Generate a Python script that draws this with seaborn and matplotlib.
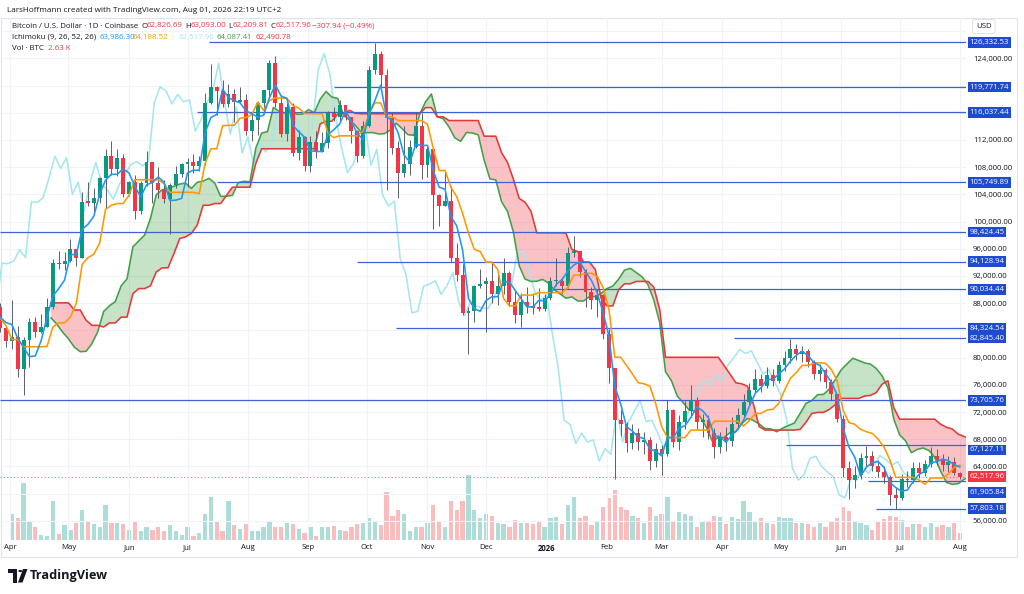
import numpy as np
import pandas as pd
import matplotlib
matplotlib.use("Agg")
import matplotlib.pyplot as plt
import matplotlib.dates as mdates
import matplotlib.transforms as mtrans
from matplotlib.patches import Rectangle, Polygon, Circle
import seaborn as sns

sns.set_theme(style="white")
plt.rcParams['font.family'] = ['Open Sans', 'DejaVu Sans']

# ---------------- data (3-day bars, values in thousand USD) ----------------
first_bar = "2025-02-06"          # first bar (warm-up for the Ichimoku lines)
first_open_k = 97.9
close_k = [
    96.5, 95.8, 97.5, 95.8, 98.3, 96.3, 84.7, 86.0, 87.2, 86.7, 78.5, 81.0, 82.6, 86.8, 83.8, 87.4, 84.3, 82.5,
    83.1, 78.3, 82.6, 85.3, 83.7, 84.5, 87.5, 93.9, 93.8, 94.2,
    95.9, 94.7, 102.9, 102.8, 103.5, 106.4, 109.6, 107.8, 109.4, 104.0,
    105.8, 101.5, 105.7, 108.7, 105.6, 104.6, 103.3, 105.4, 107.0, 108.4,
    108.8, 108.2, 108.9, 117.5, 119.8, 119.2, 117.3, 118.7, 117.6, 117.9,
    113.3, 115.0, 117.5, 119.3, 123.3, 117.4, 112.9, 116.9, 110.1, 112.5,
    108.2, 111.7, 110.2, 111.5, 116.0, 115.3, 117.1, 115.3, 113.3, 109.6,
    114.0, 122.3, 124.7, 121.6, 115.2, 110.8, 107.2, 108.5, 110.9, 114.1,
    108.3, 110.6, 103.9, 102.3, 103.0, 94.6, 92.2, 86.6, 86.8, 90.5,
    90.8, 91.3, 89.3, 90.6, 92.5, 88.2, 86.2, 88.2, 87.6, 87.3,
    87.2, 88.7, 91.2, 91.3, 90.6, 95.4, 95.6, 92.6, 89.7, 88.5,
    89.2, 83.5, 78.5, 70.8, 70.2, 67.4, 68.9, 67.6, 67.9, 64.8,
    66.6, 65.8, 72.3, 67.6, 70.5, 72.1, 73.7, 70.6, 70.8, 68.9,
    66.8, 68.3, 67.8, 70.2, 71.5, 73.5, 75.3, 76.8, 75.9, 77.4,
    76.6, 78.9, 80.0, 81.2, 80.6, 81.0, 79.3, 77.6, 78.2, 76.4,
    74.6, 71.0, 63.8, 62.0, 62.8, 65.2, 65.5, 64.0, 63.2, 62.5,
    59.8, 59.4, 62.2, 62.0, 63.8, 63.0, 64.3, 65.6, 65.0, 64.2,
    64.7, 63.1, 62.518]
high_k = [
    99.2, 98.3, 98.1, 97.9, 98.8, 99.5, 96.5, 87.0, 95.0, 92.8, 86.9, 84.3, 85.2, 87.0, 87.4, 88.7, 88.0, 84.6,
    88.5, 84.7, 83.0, 85.8, 86.0, 86.4, 88.8, 94.5, 95.7, 95.5,
    97.4, 96.0, 104.3, 105.8, 105.0, 106.6, 110.7, 111.9, 110.7, 110.0,
    106.0, 106.8, 106.0, 110.4, 108.8, 108.0, 106.1, 105.7, 108.1, 108.6,
    109.3, 110.0, 109.7, 118.9, 123.2, 120.0, 120.8, 120.2, 119.5, 119.8,
    118.8, 115.8, 117.7, 119.4, 123.7, 124.4, 118.6, 117.4, 117.4, 113.5,
    112.6, 112.6, 113.3, 113.2, 116.3, 116.8, 117.9, 117.2, 115.4, 113.4,
    114.8, 122.9, 126.2, 125.1, 122.5, 116.0, 111.8, 114.0, 112.0, 116.1,
    116.0, 111.2, 110.6, 104.1, 107.5, 105.3, 96.8, 93.8, 87.5, 90.7,
    93.0, 91.9, 94.1, 92.3, 94.6, 92.8, 90.0, 89.5, 90.4, 89.5,
    90.3, 89.4, 91.8, 94.6, 91.8, 96.2, 97.9, 95.5, 93.0, 90.4,
    90.1, 89.4, 84.2, 77.5, 72.3, 70.6, 70.3, 69.6, 69.0, 68.4,
    67.4, 67.1, 73.8, 72.5, 71.6, 73.6, 76.0, 74.2, 71.7, 71.5,
    69.7, 69.0, 69.8, 71.2, 72.6, 74.6, 76.2, 78.3, 77.6, 78.6,
    78.4, 79.5, 80.9, 82.7, 82.0, 81.7, 81.2, 79.7, 79.0, 78.5,
    76.8, 74.5, 71.5, 64.8, 64.0, 66.0, 67.0, 66.2, 64.9, 64.0,
    62.8, 60.8, 62.9, 63.3, 64.6, 64.7, 65.0, 66.8, 66.5, 65.8,
    65.6, 65.4, 63.2]
low_k = [
    95.7, 94.8, 94.1, 95.2, 93.4, 94.8, 82.2, 78.2, 81.5, 84.7, 77.5, 76.6, 80.0, 81.2, 83.2, 83.6, 83.7, 81.6,
    81.2, 77.2, 74.5, 78.6, 83.1, 83.6, 84.6, 87.1, 93.0, 92.9,
    94.1, 93.4, 95.8, 102.3, 101.5, 102.7, 102.0, 106.9, 106.7, 103.6,
    103.7, 100.4, 101.1, 105.2, 102.7, 103.4, 102.8, 98.2, 105.0, 106.6,
    105.1, 107.2, 107.4, 108.3, 117.3, 115.7, 116.8, 116.9, 114.7, 117.4,
    112.7, 111.9, 112.7, 115.8, 118.1, 116.8, 112.5, 111.8, 109.7, 109.0,
    107.4, 107.3, 109.3, 110.2, 110.8, 114.8, 114.7, 115.0, 111.5, 108.7,
    109.3, 113.9, 121.7, 119.2, 104.6, 110.0, 103.5, 106.6, 106.9, 110.8,
    106.3, 106.6, 98.9, 99.3, 102.5, 94.0, 91.2, 86.3, 80.6, 85.3,
    90.2, 83.8, 88.1, 87.8, 89.3, 87.6, 85.1, 84.5, 86.6, 86.4,
    86.8, 86.9, 88.4, 90.5, 89.3, 90.3, 94.8, 91.8, 87.4, 87.2,
    86.0, 82.8, 76.3, 62.2, 68.5, 66.1, 66.6, 66.4, 65.9, 63.5,
    63.9, 62.7, 65.5, 66.8, 66.4, 69.5, 71.3, 69.5, 68.4, 68.1,
    65.3, 66.0, 66.2, 67.0, 69.5, 71.2, 72.9, 75.0, 75.0, 75.6,
    75.8, 76.2, 78.0, 79.2, 79.6, 79.3, 78.6, 76.9, 76.5, 75.6,
    73.8, 70.5, 62.5, 59.2, 60.8, 62.2, 64.0, 63.3, 62.4, 61.5,
    58.4, 57.8, 59.0, 61.0, 61.6, 62.3, 62.6, 63.9, 64.2, 63.4,
    63.2, 62.7, 62.21]
# volume of the visible bars (from 2025-04-01), arbitrary units
volume = [
    30, 25, 65, 22, 15, 6, 5, 45, 7, 17, 12, 20, 35, 22, 18, 15, 40, 20, 20, 18,
    12, 22, 10, 15, 12, 15, 10, 17, 10, 6, 15, 5, 8, 30, 50, 22, 10, 45, 17, 13,
    18, 10, 10, 15, 22, 15, 15, 20, 18, 13, 8, 15, 5, 15, 15, 16, 12, 10, 15, 18,
    20, 25, 22, 17, 55, 28, 35, 30, 10, 15, 15, 20, 40, 22, 15, 45, 35, 45, 75, 35,
    25, 30, 28, 20, 18, 15, 23, 20, 20, 18, 22, 15, 25, 26, 18, 40, 50, 25, 28, 17,
    22, 38, 48, 58, 38, 35, 28, 25, 20, 38, 28, 30, 50, 22, 32, 30, 28, 15, 22, 22,
    28, 27, 18, 27, 24, 45, 32, 22, 25, 20, 18, 27, 25, 25, 20, 20, 18, 15, 20, 15,
    22, 25, 38, 33, 22, 20, 17, 12, 22, 24, 28, 27, 23, 15, 18, 18, 15, 20, 15, 17,
    15, 20, 8]
warmup_bars = 18

level_values = [126332.53, 119771.74, 116037.44, 105749.89, 98424.45, 94128.94, 90034.44,
                84324.54, 82845.40, 73705.76, 67127.11, 61905.84, 57803.18]
level_starts = ["2025-07-12", "2025-09-14", "2025-07-06", "2025-07-16", "2025-03-20", "2025-09-26",
                "2026-01-04", "2025-10-16", "2026-04-07", "2025-03-20", "2026-05-04", "2026-06-15",
                "2026-06-19"]
last_price = 62517.96
price_ticks = [56000, 64000, 68000, 72000, 76000, 80000, 88000, 92000, 96000, 100000,
               104000, 108000, 112000, 124000]
month_ticks = pd.date_range("2025-04-01", "2026-08-01", freq="MS")
month_labels = ["2026" if d.month == 1 else d.strftime("%b") for d in month_ticks]

# ---------------- derived series ----------------
c = np.array(close_k) * 1000
h = np.array(high_k) * 1000
l = np.array(low_k) * 1000
o = np.r_[first_open_k * 1000, c[:-1]]
dates = pd.date_range(first_bar, periods=len(c), freq="3D")
x = mdates.date2num(dates) + 1.0
hs, ls, cs = pd.Series(h), pd.Series(l), pd.Series(c)
tenkan = (hs.rolling(3).max() + ls.rolling(3).min()) / 2
kijun = (hs.rolling(9).max() + ls.rolling(9).min()) / 2
span_a = (tenkan + kijun) / 2
span_b = (hs.rolling(17).max() + ls.rolling(17).min()) / 2
ich = pd.DataFrame({"x": x, "tenkan": tenkan, "kijun": kijun, "xs": x + 26, "a": span_a,
                    "b": span_b, "xc": x - 26, "chikou": c})

# ---------------- figure ----------------
W, H = 1024, 594
fig = plt.figure(figsize=(W / 100, H / 100), dpi=100)
fig.patch.set_facecolor("white")
ax_top, ax_bot, ax_right = 18, 540, 966
ax = fig.add_axes([0, 1 - ax_bot / H, ax_right / W, (ax_bot - ax_top) / H])
axv = ax.twinx()
ax.set_zorder(2)
axv.set_zorder(1)
ax.patch.set_visible(False)
axv.set_facecolor("white")

x0 = mdates.date2num(pd.Timestamp("2025-04-01"))
xlim = (x0 - 5.1, x0 + 490)
ylim = (53190, 129924)

UP, DN = "#089981", "#F23645"
up = c >= o
col = np.where(up, UP, DN)

# volume
vis = slice(warmup_bars, None)
vcol = np.where(up[vis], "#26a69a", "#ef5350")
axv.bar(x[vis], volume, width=2.2, color=vcol, alpha=0.38, linewidth=0)
axv.set_ylim(0, 600)
axv.set_yticks([])
for s in axv.spines.values():
    s.set_visible(False)

# grid
for d in mdates.date2num(month_ticks):
    ax.axvline(d, color="#f0f3fa", lw=0.8, zorder=0)
for v in np.arange(56000, 128001, 4000):
    ax.axhline(v, color="#f0f3fa", lw=0.8, zorder=0)

# cloud
A, B = ich["a"].values, ich["b"].values
ok = ~np.isnan(B)
ax.fill_between(ich["xs"][ok], A[ok], B[ok], where=A[ok] >= B[ok], interpolate=True,
                color="#43A047", alpha=0.3, lw=0, zorder=1)
ax.fill_between(ich["xs"][ok], A[ok], B[ok], where=A[ok] < B[ok], interpolate=True,
                color="#F23645", alpha=0.3, lw=0, zorder=1)

lw = 1.15
sns.lineplot(data=ich.dropna(subset=["chikou"]), x="xc", y="chikou", ax=ax, color="#a6e6f0",
             lw=lw, estimator=None, sort=False, zorder=2)
sns.lineplot(data=ich[ok], x="xs", y="a", ax=ax, color="#43A047", lw=lw, estimator=None,
             sort=False, zorder=2)
sns.lineplot(data=ich[ok], x="xs", y="b", ax=ax, color="#E53935", lw=lw, estimator=None,
             sort=False, zorder=2)

# horizontal levels
for v, s in zip(level_values, level_starts):
    xs0 = max(mdates.date2num(pd.Timestamp(s)), xlim[0])
    ax.hlines(v, xs0, xlim[1], color="#3d61d6", lw=0.9, zorder=2.2)

# candles
ax.vlines(x, np.minimum(l, np.minimum(o, c)), np.maximum(h, np.maximum(o, c)),
          colors="#5a5e68", lw=0.7, zorder=3)
ax.bar(x, np.maximum(np.abs(c - o), 180), bottom=np.minimum(o, c), width=2.0,
       color=col, linewidth=0, zorder=4)

sns.lineplot(data=ich.dropna(subset=["kijun"]), x="x", y="kijun", ax=ax, color="#FF9800",
             lw=lw, estimator=None, sort=False, zorder=5)
sns.lineplot(data=ich.dropna(subset=["tenkan"]), x="x", y="tenkan", ax=ax, color="#2196F3",
             lw=lw, estimator=None, sort=False, zorder=5)

ax.axhline(last_price, color=DN, lw=0.7, ls=(0, (1, 2.5)), alpha=0.8, zorder=2.5)

ax.set_xlim(*xlim)
ax.set_ylim(*ylim)
ax.set_xlabel("")
ax.set_ylabel("")
axv.set_ylabel("")
ax.set_xticks(mdates.date2num(month_ticks))
ax.set_xticklabels(month_labels)
ax.yaxis.tick_right()
ax.set_yticks(price_ticks)
ax.set_yticklabels([f"{v:,.2f}" for v in price_ticks])
ax.tick_params(axis="y", length=0, pad=5.0, labelsize=5.6, labelcolor="#131722")
ax.tick_params(axis="x", length=0, pad=2.8, labelsize=5.6, labelcolor="#131722")
for lab, t in zip(ax.get_xticklabels(), month_labels):
    if t == "2026":
        lab.set_fontweight("bold")
for s in ax.spines.values():
    s.set_visible(False)

# right-axis labels (nudged where they would collide with a tick or the price label)
bt = mtrans.blended_transform_factory(fig.transFigure, ax.transData)
label_nudge = {67127.11: -700, 61905.84: -1750}
for v in level_values:
    yv = v + label_nudge.get(v, 0)
    ax.text(969.5 / W, yv, f"{v:,.2f}", transform=bt, ha="left", va="center", fontsize=5.6,
            color="white", clip_on=False, zorder=10,
            bbox=dict(boxstyle="square,pad=0.22", fc="#1f4bd1", ec="none"))
ax.text(969.5 / W, last_price, f"{last_price:,.2f}", transform=bt, ha="left", va="center",
        fontsize=5.6, color="white", clip_on=False, zorder=11,
        bbox=dict(boxstyle="square,pad=0.22", fc=DN, ec="none"))

def px(xp, yp):
    return xp / W, 1 - yp / H

fig.text(*px(976, 26.5), "USD", fontsize=5.6, color="#131722", ha="left", va="center",
         bbox=dict(boxstyle="round,pad=0.45,rounding_size=0.3", fc="white", ec="#e0e3eb", lw=0.7))

# frame
fig.add_artist(Rectangle(px(0.5, 557), 1016.5 / W, (557 - 17.5) / H, fill=False,
                         ec="#e0e3eb", lw=0.8, transform=fig.transFigure))

# header
TXT = "#131722"
fig.text(*px(7, 10), "LarsHoffmann created with TradingView.com, Aug 01, 2026 22:19 UTC+2",
         fontsize=5.9, color=TXT, va="center")
row2 = [(12, "Bitcoin / U.S. Dollar · 1D · Coinbase", TXT), (141.5, "O", TXT), (146.5, "62,826.69", DN),
        (185.5, "H", TXT), (190.5, "63,093.00", DN), (228.5, "L", TXT), (232.5, "62,209.81", DN),
        (270.5, "C", TXT), (275.5, "62,517.96", DN), (311.5, "−307.94 (−0.49%)", DN)]
row3 = [(12, "Ichimoku (9, 26, 52, 26)", TXT), (100, "63,986.30", "#2196F3"),
        (132.5, "64,188.52", "#FF9800"), (178.5, "62,517.96", "#a6e6f0"),
        (217, "64,087.41", "#43A047"), (256, "62,490.78", "#E53935")]
row4 = [(12, "Vol · BTC", TXT), (48, "2.63 K", DN)]
for yrow, row in ((26, row2), (37, row3), (48, row4)):
    for xp, t, cl in row:
        fig.text(*px(xp, yrow), t, fontsize=5.7, color=cl, va="center")

# TradingView logo
fig.add_artist(Polygon([px(8, 569), px(17, 569), px(17, 582.5), px(13, 582.5), px(13, 573), px(8, 573)],
                       closed=True, fc="#131722", ec="none", transform=fig.transFigure))
fig.add_artist(Circle(px(20.3, 571), 1.9 / W, fc="#131722", ec="none", transform=fig.transFigure))
fig.add_artist(Polygon([px(23, 569), px(27.5, 569), px(22.5, 582.5), px(18, 582.5)],
                       closed=True, fc="#131722", ec="none", transform=fig.transFigure))
fig.text(*px(30, 576), "TradingView", fontsize=9.2, fontweight="bold", color="#131722",
         va="center")

fig.savefig("out.png", dpi=100, facecolor="white")
